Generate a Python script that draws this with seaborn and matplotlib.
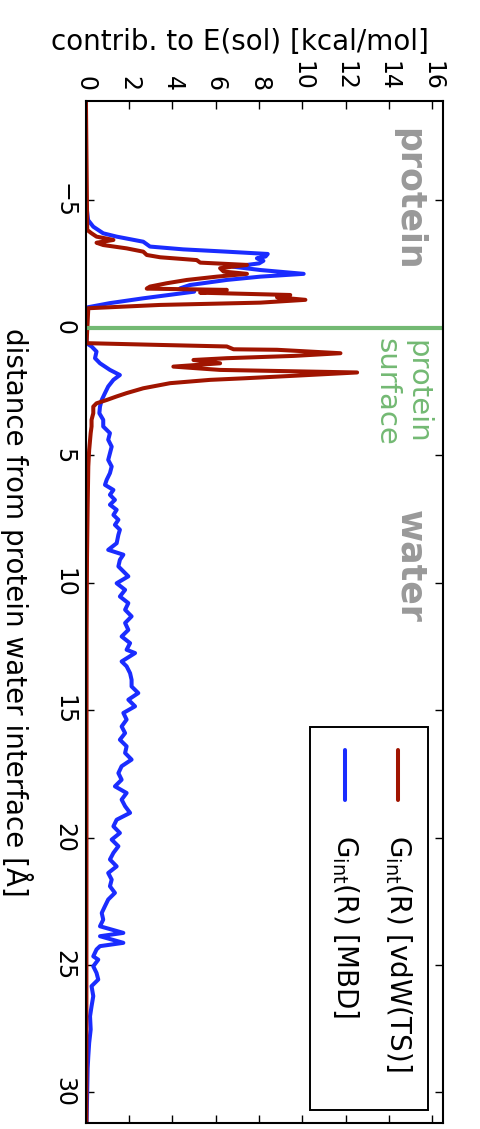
import numpy as np
import pandas as pd
import matplotlib
matplotlib.use("Agg")
import matplotlib.pyplot as plt
import matplotlib.patches as mpatches
import seaborn as sns

# distance from interface [A] and contribution [kcal/mol]
blue_d = [-8.9, -4.95, -4.23, -3.97, -3.71, -3.58, -3.38, -3.19, -3.08, -2.99, -2.90, -2.80, -2.73, -2.63,
          -2.53, -2.40, -2.27, -2.12, -2.01, -1.88, -1.68, -1.55, -1.42, -1.33, -1.16, -0.97, -0.81, -0.70,
          0.60, 0.73, 0.93, 1.19, 1.39, 1.65, 1.85, 2.04, 2.30, 2.56, 2.83, 3.09, 3.35, 3.61, 3.87, 4.13,
          4.39, 4.66, 4.92, 5.18, 5.44, 5.70, 5.96, 6.16, 6.36, 6.55, 6.75, 6.94, 7.14, 7.34, 7.53, 7.73,
          7.92, 8.12, 8.45, 8.71, 8.90, 9.10, 9.36, 9.75, 10.02, 10.28, 10.54, 10.80, 11.06, 11.32, 11.58,
          11.85, 12.11, 12.37, 12.63, 12.76, 13.09, 13.28, 13.55, 13.81, 14.07, 14.33, 14.59, 14.85, 15.11,
          15.37, 15.64, 15.90, 16.16, 16.42, 16.68, 16.94, 17.20, 17.47, 17.73, 17.99, 18.25, 18.51, 18.77,
          19.03, 19.30, 19.56, 19.82, 20.08, 20.34, 20.60, 20.86, 21.13, 21.39, 21.65, 21.91, 22.17, 22.43,
          22.69, 22.96, 23.22, 23.48, 23.74, 23.87, 24.13, 24.26, 24.39, 24.66, 24.79, 25.05, 25.31, 25.57,
          25.83, 26.22, 26.62, 27.01, 27.53, 28.06, 28.58, 29.06, 29.88, 31.2]
blue_c = [0.0, 0.0, 0.10, 0.34, 0.80, 1.42, 2.65, 2.96, 4.50, 6.50, 8.40, 8.30, 7.90, 8.20,
          8.00, 6.80, 8.06, 10.06, 8.06, 6.50, 4.80, 4.35, 5.00, 4.20, 2.65, 1.10, 0.10, 0.0,
          0.03, 0.26, 0.49, 0.42, 0.65, 1.11, 1.57, 1.27, 1.03, 0.88, 0.73, 0.65, 0.62, 0.80, 0.80, 1.11,
          1.03, 1.19, 1.11, 1.03, 1.19, 1.11, 0.96, 0.88, 1.27, 1.11, 1.34, 1.11, 1.42, 1.27, 1.50, 1.34,
          1.57, 1.50, 1.42, 1.03, 1.73, 1.57, 1.50, 1.96, 1.42, 1.81, 1.57, 1.96, 1.81, 2.11, 1.81,
          1.96, 1.65, 2.04, 1.88, 2.27, 1.65, 1.88, 2.04, 2.11, 2.11, 2.42, 1.96, 2.27, 1.73,
          1.88, 1.65, 1.81, 1.57, 1.88, 1.81, 2.11, 1.65, 1.50, 1.65, 1.34, 1.88, 1.65, 1.81,
          2.04, 1.42, 1.27, 1.57, 1.19, 1.50, 1.27, 1.11, 1.42, 1.03, 1.19, 1.11, 1.34, 1.03,
          0.88, 0.73, 0.80, 0.65, 1.73, 0.65, 1.73, 0.65, 0.49, 0.34, 0.57, 0.34, 0.49, 0.57,
          0.26, 0.34, 0.26, 0.19, 0.22, 0.15, 0.11, 0.08, 0.06, 0.03]

red_d = [-8.9, -3.84, -3.71, -3.58, -3.45, -3.34, -3.25, -3.12, -2.99, -2.86, -2.77, -2.66, -2.56, -2.47,
         -2.34, -2.21, -2.12, -2.01, -1.88, -1.75, -1.62, -1.54, -1.49, -1.38, -1.29, -1.20, -1.10, -0.99,
         -0.90, -0.77, 0.60, 0.67, 0.73, 0.84, 0.86, 0.995, 1.10, 1.19, 1.26, 1.39, 1.52, 1.65, 1.75, 1.88,
         1.98, 2.04, 2.17, 2.37, 2.56, 2.69, 2.83, 2.96, 3.09, 3.35, 3.61, 3.87, 4.13, 4.79, 5.44, 7.0,
         9.0, 12.0, 31.2]
red_c = [0.0, 0.06, 0.26, 0.49, 1.27, 0.49, 0.80, 1.88, 2.65, 2.81, 3.43, 5.12, 5.28, 7.44,
         6.20, 6.36, 7.44, 6.05, 4.66, 3.73, 2.96, 2.81, 6.51, 5.28, 9.44, 8.83, 10.14, 8.06,
         3.43, 0.11, 0.03, 3.43, 6.51, 6.82, 8.83, 11.76, 9.60, 6.51, 4.97, 6.20, 4.04, 6.20, 12.53, 9.60,
         7.28, 5.74, 3.89, 2.65, 1.88, 1.42, 0.96, 0.49, 0.34, 0.34, 0.26, 0.26, 0.22, 0.15, 0.11, 0.08,
         0.05, 0.03, 0.02]

x_ticks = [0, 2, 4, 6, 8, 10, 12, 14, 16]
y_ticks = [-5, 0, 5, 10, 15, 20, 25, 30]
labels = [r"G$_{\mathrm{int}}$(R) [vdW(TS)]", r"G$_{\mathrm{int}}$(R) [MBD]"]

RED = "#a01400"
BLUE = "#1a2cff"
GREEN = "#73b973"
GRAY = "#999999"

sns.set_style("ticks", {"xtick.direction": "in", "ytick.direction": "in",
                        "axes.edgecolor": "black", "text.color": "black",
                        "axes.labelcolor": "black", "xtick.color": "black",
                        "ytick.color": "black"})
plt.rcParams["font.family"] = ["DejaVu Sans"]

fig = plt.figure(figsize=(4.8, 11.29), dpi=100)
ax = fig.add_axes([0.179, 0.0053, 0.744, 0.9052])

blue_df = pd.DataFrame({"d": blue_d, "c": blue_c})
red_df = pd.DataFrame({"d": red_d, "c": red_c})
sns.lineplot(data=blue_df, x="c", y="d", sort=False, estimator=None, color=BLUE, lw=2.9, ax=ax)
sns.lineplot(data=red_df, x="c", y="d", sort=False, estimator=None, color=RED, lw=2.9, ax=ax)
ax.axhline(0, color=GREEN, lw=3)

ax.set_xlim(0, 16.5)
ax.set_ylim(31.2, -8.9)
ax.set_xticks(x_ticks)
ax.set_yticks(y_ticks)
ax.xaxis.tick_top()
ax.tick_params(axis="both", which="both", direction="in", length=6, width=1,
               top=True, bottom=True, left=True, right=True, labelsize=17, pad=7,
               colors="black")
ax.tick_params(axis="x", labeltop=True, labelbottom=False, labelrotation=-90)
ax.tick_params(axis="y", labelrotation=-90)
for t in ax.get_yticklabels():
    t.set_va("center")
for s in ax.spines.values():
    s.set_linewidth(1.5)
    s.set_color("black")
    s.set_visible(True)

ax.set_xlabel("contrib. to E(sol) [kcal/mol]", fontsize=20, color="black")
ax.xaxis.set_label_position("top")
ax.xaxis.set_label_coords(0.431, 1.05)
ax.set_ylabel("distance from protein water interface [Å]", fontsize=20, color="black")
ax.yaxis.label.set(rotation=-90, rotation_mode="default", va="center", ha="center")
ax.yaxis.set_label_coords(-0.193, 0.5)

ax.text(14.9, -5.05, "protein", rotation=-90, ha="center", va="center",
        color=GRAY, fontsize=25, fontweight="bold")
ax.text(15.0, 9.37, "water", rotation=-90, ha="center", va="center",
        color=GRAY, fontsize=25, fontweight="bold")
ax.text(14.6, 0.41, "protein\nsurface", rotation=-90, ha="center", va="top",
        color=GREEN, fontsize=21, linespacing=1.1)

# legend drawn by hand, rotated like the rest of the figure
ax.add_patch(mpatches.Rectangle((10.37, 15.65), 5.43, 15.02, facecolor="white",
                                edgecolor="black", lw=1.4, zorder=5))
for xc, col, lab in zip([14.44, 11.99], [RED, BLUE], labels):
    ax.plot([xc, xc], [16.55, 18.51], color=col, lw=2.9, zorder=6)
    ax.text(xc, 19.9, lab, rotation=-90, ha="center", va="top", fontsize=20,
            color="black", zorder=6)

fig.savefig("out.png", dpi=100)
